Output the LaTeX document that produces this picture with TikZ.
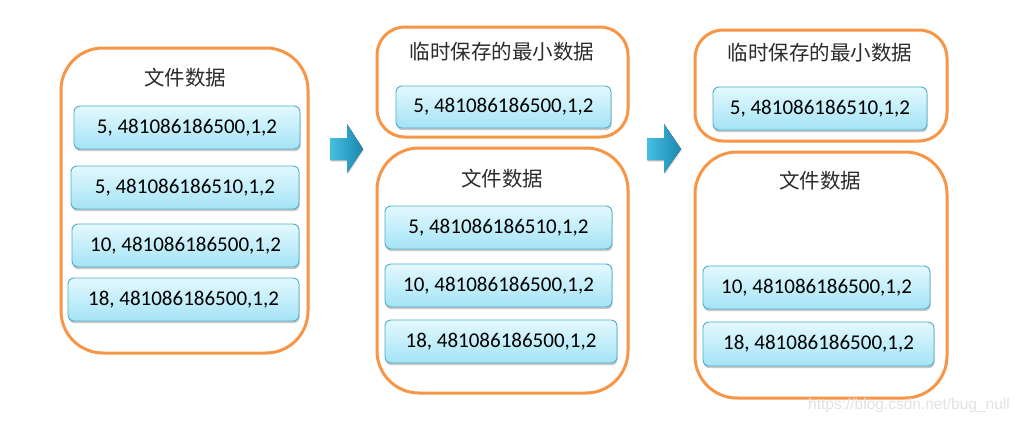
\documentclass[tikz,border=0pt]{standalone}
\usepackage{fontspec}
\setmainfont{Carlito}
\newfontfamily\cjk{Noto Sans CJK SC}
\newfontfamily\wmfont{Liberation Sans}
\usetikzlibrary{shadows}
\definecolor{orangeline}{HTML}{F79646}
\definecolor{recborder}{HTML}{4FADCB}
\definecolor{rectop}{HTML}{E4F9FE}
\definecolor{recbot}{HTML}{A3E3F6}
\definecolor{arrlight}{HTML}{45BFE2}
\definecolor{arrdark}{HTML}{1B87AE}
\definecolor{labelgray}{HTML}{2B2B2B}
\definecolor{wmgray}{HTML}{E2E2E2}
\tikzset{
  rec/.style={draw=recborder, line width=0.9pt, rounded corners=6pt,
    top color=rectop, bottom color=recbot, inner sep=0pt,
    drop shadow={shadow xshift=0.6pt, shadow yshift=-2.2pt, opacity=0.3, fill=black!70},
    font=\fontsize{21}{24}\selectfont, text=black},
  cont/.style={draw=orangeline, line width=3pt, inner sep=0pt, fill=white},
  lab/.style={font=\cjk\fontsize{20.5}{24}\selectfont, text=labelgray, inner sep=0pt},
  bluearrow/.style={left color=arrlight, right color=arrdark,
    drop shadow={shadow xshift=0.8pt, shadow yshift=-1.5pt, opacity=0.25, fill=black!60}}
}
\newcommand\recbox[6]{\node[rec, minimum width={(#4-#2)*1pt}, minimum height={(#5-#3)*1pt}] (#1) at ({(#2+#4)/2},{(#3+#5)/2}) {#6};}
\newcommand\contbox[6]{\node[cont, rounded corners=#6, minimum width={(#4-#2)*1pt}, minimum height={(#5-#3)*1pt}] (#1) at ({(#2+#4)/2},{(#3+#5)/2}) {};}
\begin{document}
\begin{tikzpicture}[x=1pt, y=-1pt]
\fill[white] (0,0) rectangle (1018,423);
\useasboundingbox (0,0) rectangle (1018,423);

% containers
\contbox{CL}{61}{48}{308}{353}{42pt}
\contbox{CMT}{377}{27}{628}{137}{28pt}
\contbox{CMB}{377}{148}{628}{393}{42pt}
\contbox{CRT}{695}{30}{947}{141}{28pt}
\contbox{CRB}{695}{152}{947}{398}{42pt}

% labels
\node[lab] (LL) at (185,78) {文件数据};
\node[lab] (LMT) at (502,52) {临时保存的最小数据};
\node[lab] (LMB) at (502,179) {文件数据};
\node[lab] (LRT) at (820,53) {临时保存的最小数据};
\node[lab] (LRB) at (820,181) {文件数据};

% records
\recbox{L1}{74}{106}{300}{149}{5, 481086186500,1,2}
\recbox{L2}{71}{166}{299}{209}{5, 481086186510,1,2}
\recbox{L3}{72}{224}{299}{267}{10, 481086186500,1,2}
\recbox{L4}{68}{278}{299}{321}{18, 481086186500,1,2}
\recbox{MT}{396}{86}{611}{128}{5, 481086186500,1,2}
\recbox{M1}{385}{206}{612}{249}{5, 481086186510,1,2}
\recbox{M2}{385}{264}{612}{307}{10, 481086186500,1,2}
\recbox{M3}{385}{320}{617}{363}{18, 481086186500,1,2}
\recbox{RT}{713}{87}{927}{130}{5, 481086186510,1,2}
\recbox{R1}{703}{266}{930}{309}{10, 481086186500,1,2}
\recbox{R2}{703}{322}{934}{366}{18, 481086186500,1,2}

% arrows
\fill[bluearrow] (330,138) -- (347,138) -- (347,124) -- (363,149) -- (347,173) -- (347,160) -- (330,160) -- cycle;
\fill[bluearrow] (647,138) -- (664,138) -- (664,124) -- (681,149) -- (664,173) -- (664,160) -- (647,160) -- cycle;

% watermark
\node[font=\wmfont\fontsize{15.5}{18}\selectfont, text=wmgray, inner sep=0pt, anchor=east] (WM) at (1010,405) {https://blog.csdn.net/bug\_null};
\end{tikzpicture}
\end{document}
